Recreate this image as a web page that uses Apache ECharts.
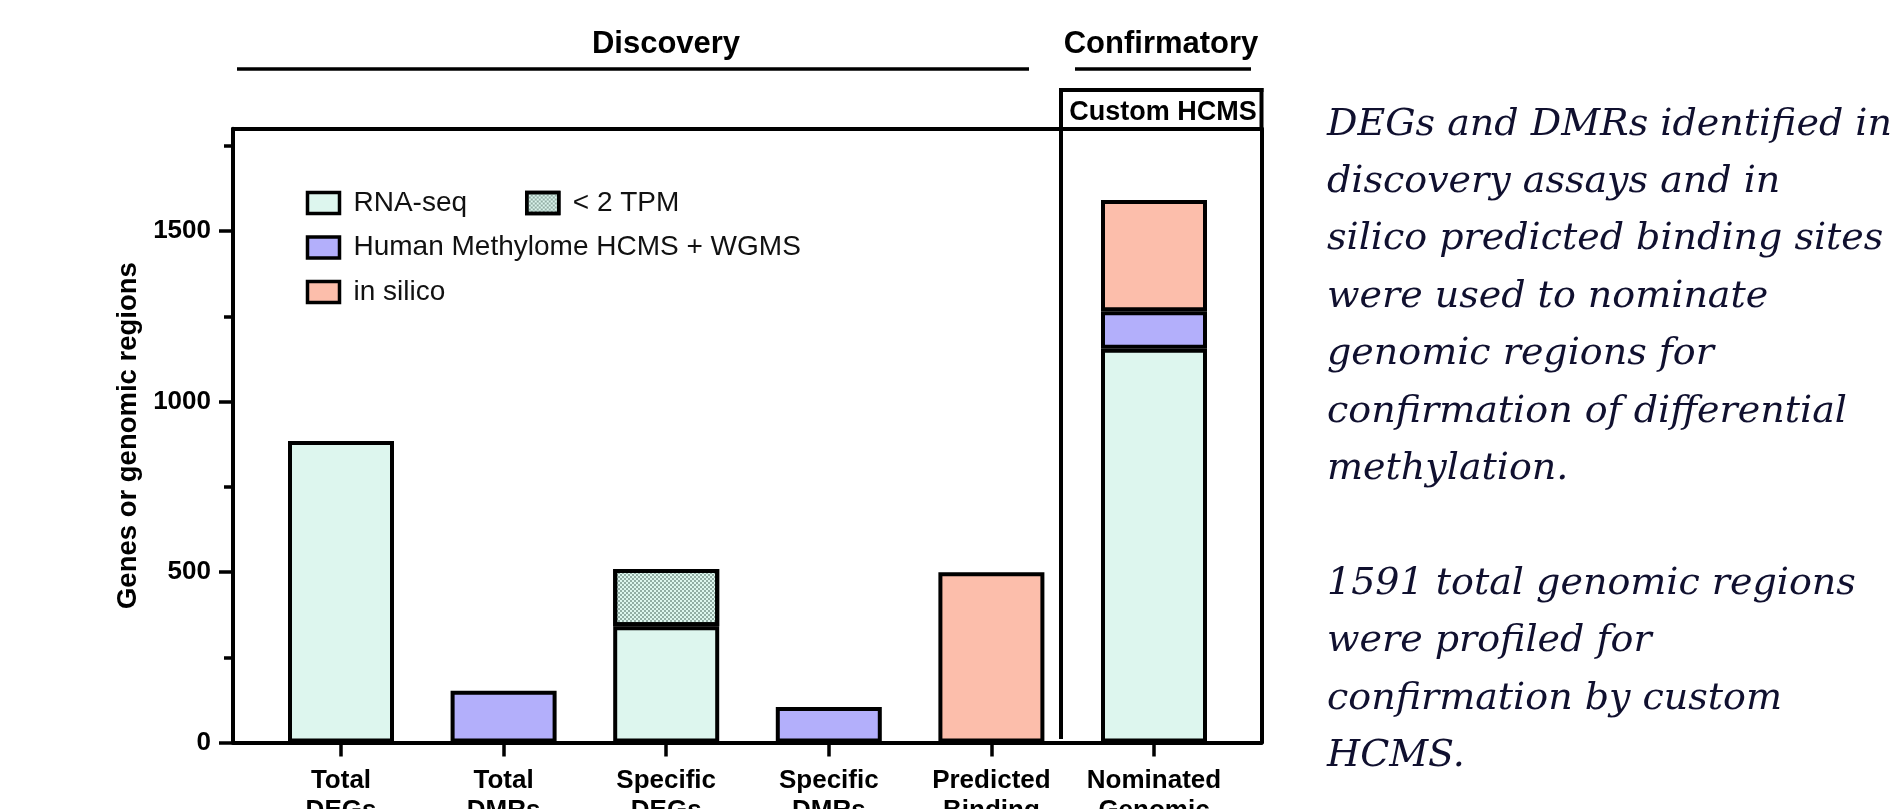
<!DOCTYPE html>
<html>
<head>
<meta charset="utf-8">
<script src="https://cdn.jsdelivr.net/npm/echarts@6/dist/echarts.min.js"></script>
<style>
html,body{margin:0;padding:0;background:#fff;}
#chart{width:1891px;height:809px;}
</style>
</head>
<body>
<div id="chart"></div>
<script>
const categories = ['Total\nDEGs', 'Total\nDMRs', 'Specific\nDEGs', 'Specific\nDMRs', 'Predicted\nBinding', 'Nominated\nGenomic'];
const seriesNames = ['RNA-seq', '< 2 TPM', 'Human Methylome HCMS + WGMS', 'in silico'];
const rnaSeq    = [884, '-', 341, '-', '-', 1155];
const lowTpm    = ['-', '-', 168, '-', '-', '-'];
const methylome = ['-', 152, '-', 104, '-', 110];
const inSilico  = ['-', '-', '-', '-', 499, 326];
const yMax = 1800;
const yMajor = 500;
const yMinor = 250;
const yAxisTitle = 'Genes or genomic regions';
const groupLabels = ['Discovery', 'Confirmatory'];
const boxLabel = 'Custom HCMS';
const sideText = 'DEGs and DMRs identified in\ndiscovery assays and in\nsilico predicted binding sites\nwere used to nominate\ngenomic regions for\nconfirmation of differential\nmethylation.\n\n1591 total genomic regions\nwere profiled for\nconfirmation by custom\nHCMS.';

const majorTicks = [];
const minorTicks = [];
for (let v = 0; v < yMax; v += yMinor) {
  if (v % yMajor === 0) majorTicks.push(v); else minorTicks.push(v);
}

const colors = ['#DDF6EE', '#DDF6EE', '#B3AFFB', '#FCBEAB'];
const FONT = '"Liberation Sans", Arial, Helvetica, sans-serif';
const LW = 4;

const chart = echarts.init(document.getElementById('chart'), null, {renderer: 'canvas'});

const dataSets = [rnaSeq, lowTpm, methylome, inSilico];
const series = dataSets.map((d, i) => {
  const s = {
    type: 'bar', stack: 'total', xAxisIndex: 2, yAxisIndex: 3,
    barWidth: 106,
    name: seriesNames[i],
    data: d,
    itemStyle: {color: colors[i], borderColor: '#000', borderWidth: LW}
  };
  if (i === 1) {
    s.itemStyle.decal = {
      symbol: 'rect', symbolSize: 0.75,
      dashArrayX: [[2, 2], [0, 2, 2, 0]], dashArrayY: [2, 0],
      color: 'rgba(0,30,20,0.6)', rotation: 0
    };
  }
  return s;
});

const gridCommon = {top: 128.7, bottom: 809 - 742.5, containLabel: false, outerBoundsMode: 'none'};

const option = {
  backgroundColor: '#fff',
  animation: false,
  textStyle: {fontFamily: FONT},
  title: [
    {text: groupLabels[0], left: 666, top: 29, padding: 0, textAlign: 'center',
     textStyle: {fontFamily: FONT, fontWeight: 'bold', fontSize: 31, color: '#000'}},
    {text: groupLabels[1], left: 1161, top: 29, padding: 0, textAlign: 'center',
     textStyle: {fontFamily: FONT, fontWeight: 'bold', fontSize: 31, color: '#000'}},
    {text: sideText, left: 1322, top: 91,
     textStyle: {fontFamily: '"DejaVu Serif", serif', fontStyle: 'italic', fontWeight: 'normal',
       fontSize: 38, lineHeight: 57.4, color: '#10102f'}}
  ],
  legend: [
    {data: [seriesNames[0], seriesNames[2], seriesNames[3]], orient: 'vertical',
     left: 305.75, top: 188, padding: 0, itemGap: 14.5, icon: 'rect',
     itemWidth: 32, itemHeight: 21, selectedMode: false,
     itemStyle: {borderColor: '#000', borderWidth: 3.5},
     textStyle: {fontFamily: FONT, fontSize: 28, color: '#111', lineHeight: 30, padding: [0, 0, 0, 9]}},
    {data: [seriesNames[1]], orient: 'vertical',
     left: 525, top: 188, padding: 0, icon: 'rect',
     itemWidth: 32, itemHeight: 21, selectedMode: false,
     itemStyle: {borderColor: '#000', borderWidth: 3.5},
     textStyle: {fontFamily: FONT, fontSize: 28, color: '#111', lineHeight: 30, padding: [0, 0, 0, 9]}}
  ],
  grid: [
    Object.assign({left: 233, right: 1891 - 1261.5}, gridCommon),
    Object.assign({left: 259.7, right: 1891 - 1235.3}, gridCommon)
  ],
  xAxis: [
    {gridIndex: 0, type: 'value', min: 0, max: 1, position: 'bottom',
     axisLine: {show: true, onZero: false, lineStyle: {color: '#000', width: LW}},
     axisTick: {show: false}, axisLabel: {show: false}, splitLine: {show: false}},
    {gridIndex: 0, type: 'value', min: 0, max: 1, position: 'top',
     axisLine: {show: true, onZero: false, lineStyle: {color: '#000', width: LW}},
     axisTick: {show: false}, axisLabel: {show: false}, splitLine: {show: false}},
    {gridIndex: 1, type: 'category', data: categories, position: 'bottom',
     axisLine: {show: false},
     axisTick: {show: true, alignWithLabel: true, length: 14, lineStyle: {color: '#000', width: 3.5}},
     axisLabel: {show: true, interval: 0, margin: 23, fontFamily: FONT, fontWeight: 'bold',
       fontSize: 26, lineHeight: 30, color: '#000'},
     splitLine: {show: false}}
  ],
  yAxis: [
    {gridIndex: 0, type: 'value', min: 0, max: yMax, interval: yMajor, position: 'left',
     name: yAxisTitle, nameLocation: 'middle', nameGap: 82,
     nameTextStyle: {fontFamily: FONT, fontWeight: 'bold', fontSize: 27.5, color: '#000'},
     axisLine: {show: true, lineStyle: {color: '#000', width: LW}},
     axisTick: {show: true, length: 14, customValues: majorTicks, lineStyle: {color: '#000', width: 3.5}},
     axisLabel: {show: true, margin: 22, customValues: majorTicks, fontFamily: FONT, fontWeight: 'bold',
       fontSize: 26, color: '#000', formatter: v => String(v)},
     splitLine: {show: false}},
    {gridIndex: 0, type: 'value', min: 0, max: yMax, interval: yMinor, position: 'left',
     axisLine: {show: false},
     axisTick: {show: true, length: 9, customValues: minorTicks, lineStyle: {color: '#000', width: 3.5}},
     axisLabel: {show: false}, splitLine: {show: false}},
    {gridIndex: 0, type: 'value', min: 0, max: yMax, position: 'right',
     axisLine: {show: true, lineStyle: {color: '#000', width: LW}},
     axisTick: {show: false}, axisLabel: {show: false}, splitLine: {show: false}},
    {gridIndex: 1, type: 'value', min: 0, max: yMax, show: false}
  ],
  graphic: [
    {type: 'line', shape: {x1: 237, y1: 69, x2: 1029, y2: 69}, style: {stroke: '#000', lineWidth: 3.5}},
    {type: 'line', shape: {x1: 1075, y1: 69, x2: 1251, y2: 69}, style: {stroke: '#000', lineWidth: 3.5}},
    {type: 'line', shape: {x1: 1061, y1: 88, x2: 1061, y2: 739}, style: {stroke: '#000', lineWidth: LW}},
    {type: 'line', shape: {x1: 1059, y1: 90, x2: 1263.5, y2: 90}, style: {stroke: '#000', lineWidth: LW}},
    {type: 'line', shape: {x1: 1261.5, y1: 88, x2: 1261.5, y2: 130}, style: {stroke: '#000', lineWidth: LW}},
    {type: 'text', x: 1163, y: 113, style: {text: boxLabel, font: 'bold 27px ' + FONT,
      fill: '#000', align: 'center', verticalAlign: 'middle'}}
  ],
  series: series
};
chart.setOption(option);
</script>
</body>
</html>
